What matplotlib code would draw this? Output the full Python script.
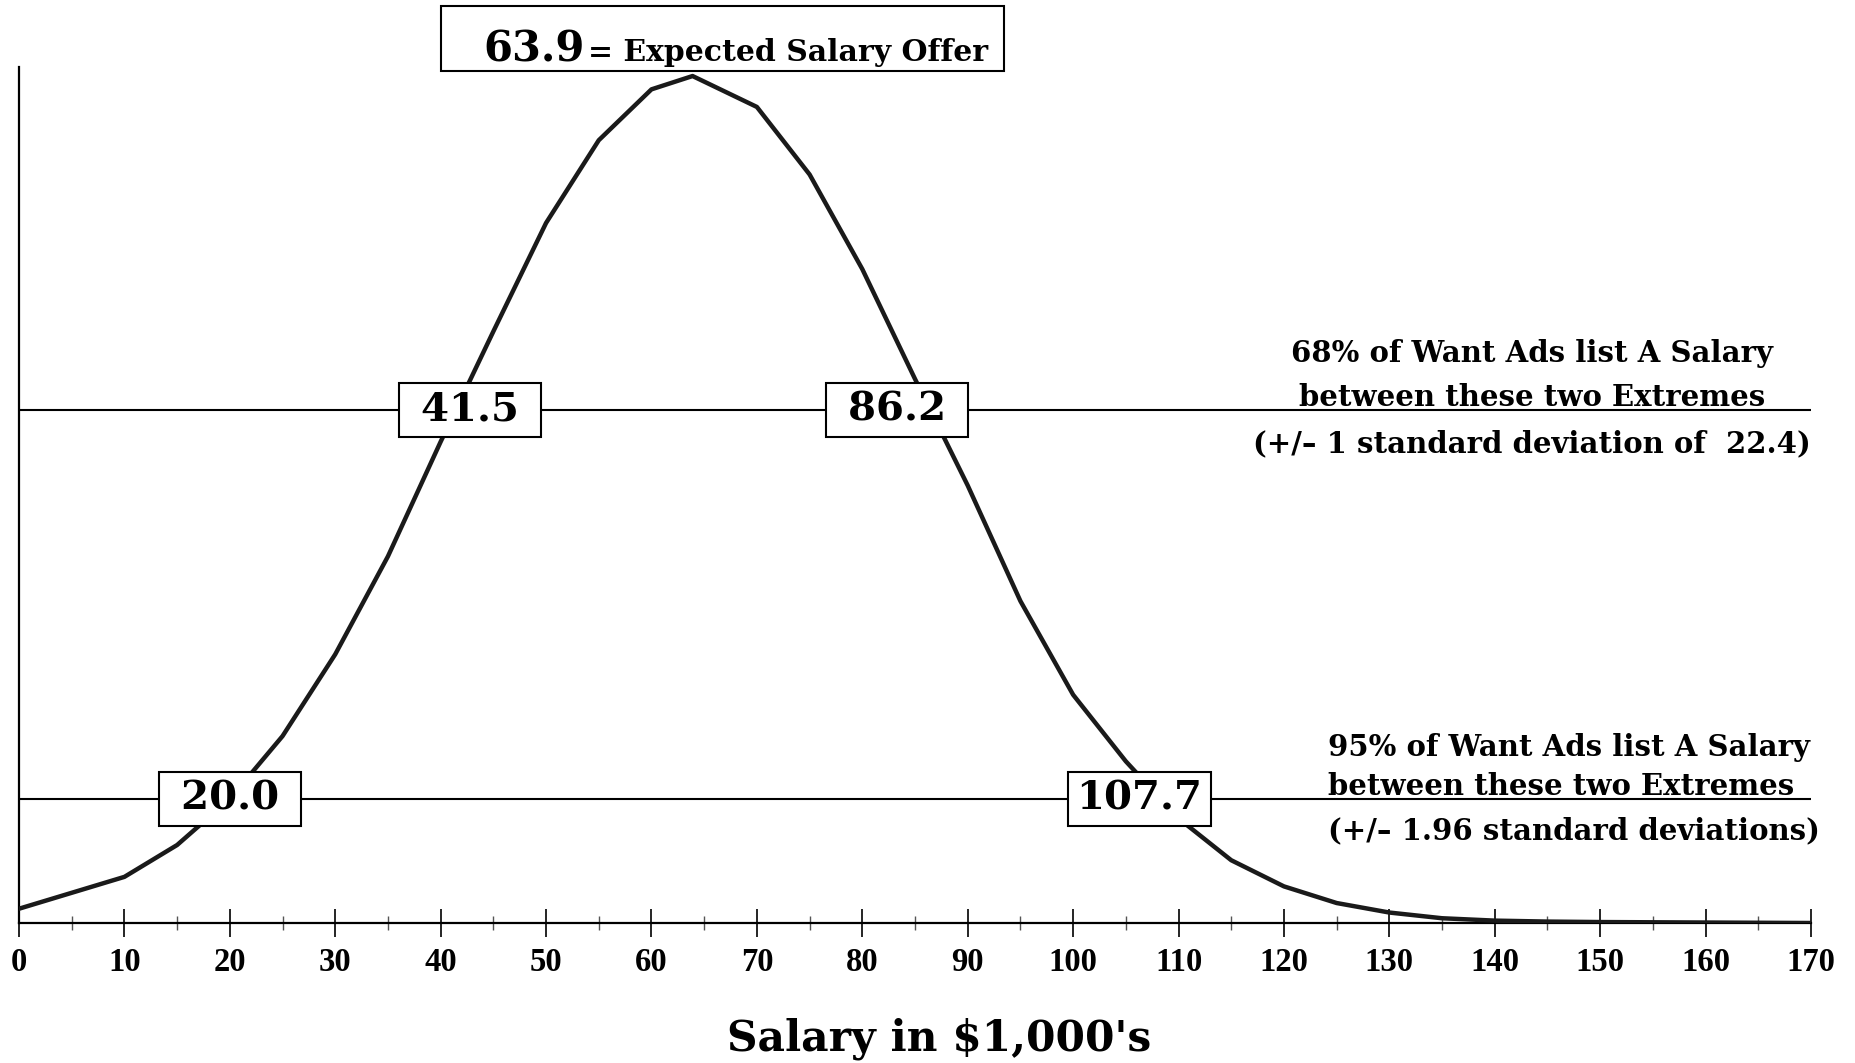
import matplotlib
matplotlib.use('Agg')
import matplotlib.pyplot as plt
from matplotlib.patches import Rectangle

# salary (in $1,000's) and curve height
salary = [0, 10, 15, 20, 25, 30, 35, 40, 45, 50, 55, 60, 63.9, 70, 75, 80, 85,
          90, 95, 100, 105, 110, 115, 120, 125, 130, 135, 140, 145, 150, 160, 170]
density = [0.30, 0.97, 1.64, 2.61, 3.93, 5.65, 7.71, 10.12, 12.44, 14.72, 16.46,
           17.53, 17.81, 17.16, 15.74, 13.75, 11.44, 9.20, 6.77, 4.80, 3.40, 2.20,
           1.32, 0.77, 0.42, 0.22, 0.10, 0.05, 0.03, 0.02, 0.01, 0.0]

expected = 63.9
band68 = ['41.5', '86.2']
band95 = ['20.0', '107.7']
level68 = 10.79
level95 = 2.61

W, H = 1856, 1063
def fx(px):
    return px / W
def fy(py):
    return 1 - py / H

fig = plt.figure(figsize=(W / 100, H / 100), dpi=100)
ax = fig.add_axes([fx(19), fy(923), fx(1811) - fx(19), fy(67) - fy(923)])

ax.plot(salary, density, color='#1a1a1a', lw=3.2, zorder=3)
ax.hlines([level68, level95], 0, 170, color='black', lw=1.5, zorder=2)

ax.set_xlim(0, 170)
ax.set_ylim(0, 18.0)
ax.spines['top'].set_visible(False)
ax.spines['right'].set_visible(False)
ax.spines['left'].set_linewidth(1.6)
ax.spines['bottom'].set_linewidth(1.6)
ax.set_yticks([])
ax.set_xticks(range(0, 171, 10))
ax.set_xticks(range(5, 171, 10), minor=True)
ax.tick_params(axis='x', which='major', direction='inout', length=20, width=1.2, pad=7)
ax.tick_params(axis='x', which='minor', direction='inout', length=10, width=1.0, color='#555555')
for lab in ax.get_xticklabels():
    lab.set_family('Liberation Serif')
    lab.set_fontweight('bold')
    lab.set_fontsize(23.5)

box = dict(boxstyle='square,pad=0.2', fc='white', ec='black', lw=1.5)
lab_font = dict(family='DejaVu Serif', fontweight='bold', fontsize=29, ha='center', va='center', zorder=5)
ax.text(42.8, level68, ' ' + band68[0] + ' ', bbox=box, **lab_font)
ax.text(83.3, level68, ' ' + band68[1] + ' ', bbox=box, **lab_font)
ax.text(20.0, level95, ' ' + band95[0] + ' ', bbox=box, **lab_font)
ax.text(106.3, level95, band95[1], bbox=box, **lab_font)

# top box with the expected offer
fig.patches.append(Rectangle((fx(441), fy(71)), fx(563), 65 / H, transform=fig.transFigure,
                             fc='white', ec='black', lw=1.5))
fig.text(fx(483), fy(61), f'{expected:.1f}', family='DejaVu Serif', fontweight='bold',
         fontsize=30, ha='left', va='baseline')
fig.text(fx(988), fy(61), '= Expected Salary Offer', family='DejaVu Serif', fontweight='bold',
         fontsize=21.5, ha='right', va='baseline')

note = dict(family='DejaVu Serif', fontweight='bold', fontsize=21, va='baseline')
fig.text(fx(1532), fy(362), '68% of Want Ads list A Salary', ha='center', **note)
fig.text(fx(1532), fy(406), 'between these two Extremes', ha='center', **note)
fig.text(fx(1532), fy(452), '(+/\u2013 1 standard deviation of  22.4)', ha='center', **note)

fig.text(fx(1328), fy(756), '95% of Want Ads list A Salary', ha='left', **note)
fig.text(fx(1328), fy(795), 'between these two Extremes', ha='left', **note)
fig.text(fx(1328), fy(839), '(+/\u2013 1.96 standard deviations)', ha='left', **note)

fig.text(fx(939), fy(1039), "Salary in $1,000's", family='DejaVu Serif', fontweight='bold',
         fontsize=30.5, ha='center', va='center')

fig.savefig('out.png', dpi=100)
